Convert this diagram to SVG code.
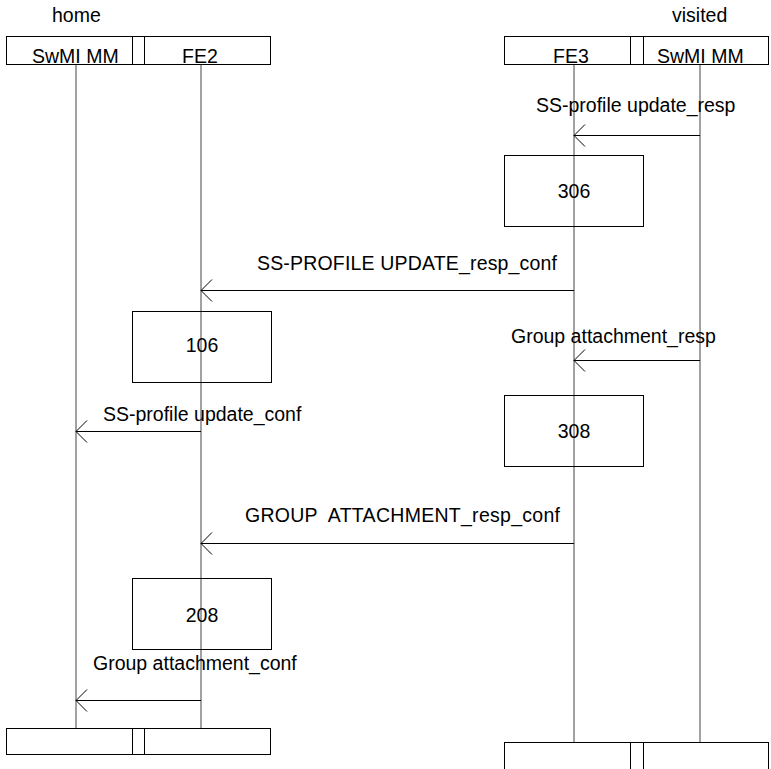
<svg xmlns="http://www.w3.org/2000/svg" width="771" height="769" viewBox="0 0 771 769">
<style>
text{font-family:"Liberation Sans",Arial,sans-serif;font-size:19.5px;fill:#000}
.box{fill:#fff;stroke:#000;stroke-width:1}
.life{stroke:#444;stroke-width:1;fill:none}
.msg{stroke:#000;stroke-width:1;fill:none}
</style>
<defs>
<marker id="arr" viewBox="-12 -12 13 24" refX="0" refY="0" markerWidth="13" markerHeight="24" markerUnits="userSpaceOnUse" orient="auto">
<path d="M-11,-11 L0,0 L-11,11" fill="none" stroke="#000" stroke-width="1"/>
</marker>
</defs>
<rect width="771" height="769" fill="#fff"/>
<text x="52" y="22">home</text>
<text x="672" y="22">visited</text>
<g id="lifelines">
<line class="life" x1="76" y1="65" x2="76" y2="728"/>
<line class="life" x1="201" y1="65" x2="201" y2="728"/>
<line class="life" x1="574" y1="65" x2="574" y2="742"/>
<line class="life" x1="700" y1="65" x2="700" y2="742"/>
</g>
<g id="header-home">
<rect class="box" x="6.5" y="36.5" width="264" height="28"/>
<rect class="box" x="132.5" y="36.5" width="12" height="28"/>
<text x="32" y="63">SwMI MM</text>
<text x="182" y="63">FE2</text>
</g>
<g id="header-visited">
<rect class="box" x="504.5" y="36.5" width="264" height="28"/>
<rect class="box" x="630.5" y="36.5" width="13" height="28"/>
<text x="553" y="63">FE3</text>
<text x="657" y="63">SwMI MM</text>
</g>
<g id="connectors">
<line class="msg" x1="700" y1="135.5" x2="574" y2="135.5" marker-end="url(#arr)"/>
<line class="msg" x1="574" y1="290.5" x2="201" y2="290.5" marker-end="url(#arr)"/>
<line class="msg" x1="700" y1="360.5" x2="574" y2="360.5" marker-end="url(#arr)"/>
<line class="msg" x1="201" y1="431.5" x2="76" y2="431.5" marker-end="url(#arr)"/>
<line class="msg" x1="574" y1="543.5" x2="201" y2="543.5" marker-end="url(#arr)"/>
<line class="msg" x1="201" y1="700.5" x2="76" y2="700.5" marker-end="url(#arr)"/>
<text x="536" y="112">SS-profile update_resp</text>
<text x="257" y="270" textLength="300" lengthAdjust="spacing">SS-PROFILE UPDATE_resp_conf</text>
<text x="511" y="343">Group attachment_resp</text>
<text x="103" y="421">SS-profile update_conf</text>
<text x="245" y="522" xml:space="preserve" textLength="315" lengthAdjust="spacing">GROUP  ATTACHMENT_resp_conf</text>
<text x="93" y="670">Group attachment_conf</text>
</g>
<g id="box306">
<rect x="504.5" y="155.5" width="139" height="71" fill="none" stroke="#000"/>
<text x="574" y="198" text-anchor="middle">306</text>
</g>
<g id="box106">
<rect x="132.5" y="311.5" width="139" height="71" fill="none" stroke="#000"/>
<text x="202" y="352" text-anchor="middle">106</text>
</g>
<g id="box308">
<rect x="504.5" y="395.5" width="139" height="71" fill="none" stroke="#000"/>
<text x="574" y="438" text-anchor="middle">308</text>
</g>
<g id="box208">
<rect x="132.5" y="578.5" width="139" height="71" fill="none" stroke="#000"/>
<text x="202" y="622" text-anchor="middle">208</text>
</g>
<g id="footer-home">
<rect class="box" x="6.5" y="728.5" width="264" height="26"/>
<rect class="box" x="132.5" y="728.5" width="12" height="26"/>
</g>
<g id="footer-visited">
<rect class="box" x="504.5" y="742.5" width="264" height="40"/>
<rect class="box" x="630.5" y="742.5" width="13" height="40"/>
</g>
</svg>
